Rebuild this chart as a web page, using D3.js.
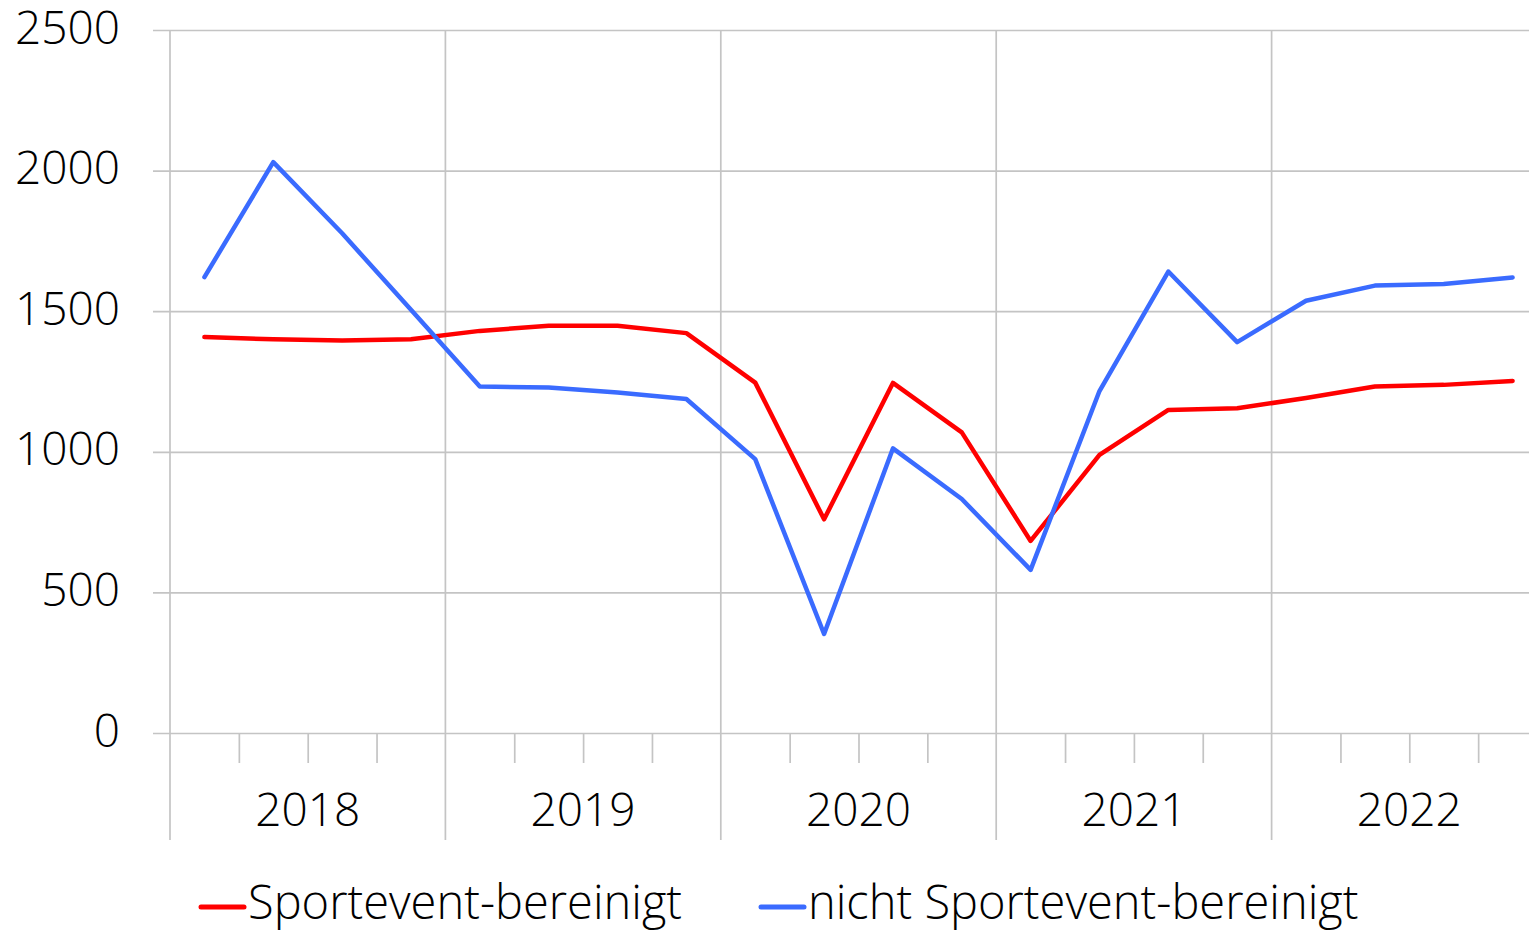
<!DOCTYPE html>
<html>
<head>
<meta charset="utf-8">
<script src="https://cdn.jsdelivr.net/npm/d3@7"></script>
<style>
  html, body { margin: 0; padding: 0; background: #fff; }
  svg text { font-family: "Open Sans", sans-serif; font-weight: 300; fill: #000; }
</style>
</head>
<body>
<div id="chart"></div>
<script>
// Data: quarterly values 2018-2022
var years = ['2018', '2019', '2020', '2021', '2022'];
var quarters = ['Q1', 'Q2', 'Q3', 'Q4'];
var yTicks = [0, 500, 1000, 1500, 2000, 2500];

var seriesNames = ['Sportevent-bereinigt', 'nicht Sportevent-bereinigt'];

var bereinigt = [
  1408, 1400, 1396, 1400,
  1430, 1448, 1448, 1422,
  1246, 760, 1245, 1069,
  683, 989, 1149, 1155,
  1191, 1232, 1238, 1252
];

var nichtBereinigt = [
  1621, 2030, 1777, 1505,
  1232, 1229, 1211, 1188,
  974, 352, 1012, 832,
  580, 1216, 1641, 1390,
  1537, 1591, 1597, 1620
];

var seriesColors = ['#ff0000', '#3a6bff'];

// Chart dimensions
var svgWidth = 1529;
var svgHeight = 934;

var plot = { left: 170, right: 1547, top: 30, bottom: 733 };

var svg = d3.select('#chart')
  .append('svg')
  .attr('width', svgWidth)
  .attr('height', svgHeight);

// Scales: x runs over quarter boundaries (20 quarters), y over values
var nQ = years.length * quarters.length;
var xScale = d3.scaleLinear()
  .domain([0, nQ])
  .range([plot.left, plot.right]);

var yScale = d3.scaleLinear()
  .domain([0, 2500])
  .range([plot.bottom, plot.top]);

// Horizontal gridlines + y labels
var yAxis = d3.axisLeft(yScale)
  .tickValues(yTicks)
  .tickSize(-(plot.right - 153))
  .tickPadding(33)
  .tickFormat(d3.format('d'));

var yG = svg.append('g')
  .attr('transform', 'translate(153,0)')
  .call(yAxis);
yG.select('.domain').remove();
yG.selectAll('.tick line')
  .attr('stroke', '#c4c4c4')
  .attr('stroke-width', 1.7);
yG.selectAll('.tick text')
  .attr('font-size', 46)
  .attr('dy', 13)
  .style('font-family', '"Open Sans", sans-serif')
  .style('font-weight', 300)
  .attr('fill', '#000');

// Minor quarter ticks below the axis
var quarterBounds = d3.range(1, nQ).filter(function(i) { return i % 4 !== 0; });
var xAxis = d3.axisBottom(xScale)
  .tickValues(quarterBounds)
  .tickSize(30)
  .tickFormat('');
var xG = svg.append('g')
  .attr('transform', 'translate(0,' + plot.bottom + ')')
  .call(xAxis);
xG.select('.domain').remove();
xG.selectAll('.tick line')
  .attr('stroke', '#c4c4c4')
  .attr('stroke-width', 1.7);

// Year boundary lines (gridline + long tick)
var yearBounds = d3.range(0, nQ + 1, 4);
svg.append('g')
  .selectAll('line')
  .data(yearBounds)
  .enter()
  .append('line')
  .attr('x1', function(d) { return xScale(d); })
  .attr('x2', function(d) { return xScale(d); })
  .attr('y1', plot.top)
  .attr('y2', 840)
  .attr('stroke', '#c4c4c4')
  .attr('stroke-width', 1.7);

// Year labels
svg.append('g')
  .selectAll('text')
  .data(years)
  .enter()
  .append('text')
  .attr('x', function(d, i) { return xScale(i * 4 + 2); })
  .attr('y', 826)
  .attr('text-anchor', 'middle')
  .attr('font-size', 46)
  .text(function(d) { return d; });

// Lines
var line = d3.line()
  .x(function(d, i) { return xScale(i + 0.5); })
  .y(function(d) { return yScale(d); });

[bereinigt, nichtBereinigt].forEach(function(values, s) {
  svg.append('path')
    .datum(values)
    .attr('d', line)
    .attr('fill', 'none')
    .attr('stroke', seriesColors[s])
    .attr('stroke-width', 4.5)
    .attr('stroke-linejoin', 'round')
    .attr('stroke-linecap', 'round');
});

// Legend
var legendX = [201, 761];
var legend = svg.append('g');
seriesNames.forEach(function(name, s) {
  legend.append('line')
    .attr('x1', legendX[s])
    .attr('x2', legendX[s] + 43)
    .attr('y1', 907)
    .attr('y2', 907)
    .attr('stroke', seriesColors[s])
    .attr('stroke-width', 5)
    .attr('stroke-linecap', 'round');
  legend.append('text')
    .attr('x', legendX[s] + 47)
    .attr('y', 919)
    .attr('font-size', 47)
    .text(name);
});
</script>
</body>
</html>
